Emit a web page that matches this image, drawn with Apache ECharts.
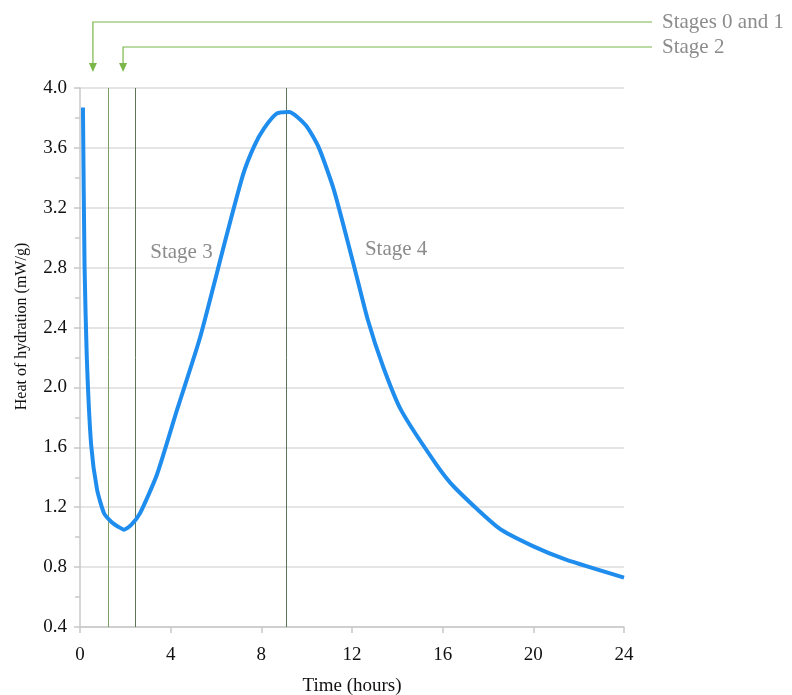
<!DOCTYPE html>
<html>
<head>
<meta charset="utf-8">
<script src="https://cdn.jsdelivr.net/npm/echarts@6/dist/echarts.min.js"></script>
<style>
  html, body { margin: 0; padding: 0; background: #fff; }
  #chart { width: 792px; height: 695px; }
</style>
</head>
<body>
<div id="chart"></div>
<script>
// heat flow curve (hours, mW/g)
const timeHours = [0.13, 0.2, 0.3, 0.49, 0.75, 1.06, 1.4, 1.68, 1.94, 2.25, 2.65, 3.4, 4.28, 5.29, 6.44, 7.19, 7.68, 8.12, 8.69, 9.22, 9.97, 10.54, 11.2, 12.04, 12.7, 13.37, 14.16, 15.7, 16.54, 18.48, 19.98, 21.44, 24];
const heatFlow  = [3.87, 2.82, 2.2, 1.62, 1.32, 1.16, 1.1, 1.07, 1.05, 1.08, 1.16, 1.42, 1.85, 2.33, 3.0, 3.42, 3.61, 3.73, 3.83, 3.84, 3.75, 3.6, 3.32, 2.84, 2.45, 2.14, 1.85, 1.49, 1.33, 1.06, 0.94, 0.85, 0.73];

// vertical stage boundaries
const stageLines = [1.24, 2.43, 9.09];
const stageLineColors = ['#7d9e63', '#5f7556', '#5f7556'];

// stage labels inside the plot
const stageLabels = ['Stage 3', 'Stage 4'];
const stageLabelPos = [[3.1, 2.9], [12.57, 2.92]];

// arrow callouts above the plot
const arrowLabels = ['Stages 0 and 1', 'Stage 2'];
const arrowTimes = [0.57, 1.9];

const chart = echarts.init(document.getElementById('chart'));
const serif = '"Liberation Serif", "DejaVu Serif", serif';

chart.setOption({
  animation: false,
  grid: { left: 80, right: 168, top: 88, bottom: 68, containLabel: false, outerBoundsMode: 'none' },
  xAxis: {
    type: 'value',
    min: 0, max: 24, interval: 4,
    name: 'Time (hours)',
    nameLocation: 'middle',
    nameGap: 50,
    nameTextStyle: { fontFamily: serif, fontSize: 19, color: '#111' },
    axisLine: { lineStyle: { color: '#c8c8c8', width: 1.5 } },
    axisTick: { show: true, length: 6, lineStyle: { color: '#c8c8c8', width: 1.5 } },
    axisLabel: { fontFamily: serif, fontSize: 19, color: '#111', margin: 19 },
    splitLine: { show: false }
  },
  yAxis: {
    type: 'value',
    min: 0.4, max: 4.0, interval: 0.4,
    name: 'Heat of hydration (mW/g)',
    nameLocation: 'middle',
    nameGap: 50,
    nameTextStyle: { fontFamily: serif, fontSize: 16, color: '#111', padding: [0, 0, 0, 62] },
    axisLine: { show: true, lineStyle: { color: '#c8c8c8', width: 1.5 } },
    axisTick: { show: true, length: 6, lineStyle: { color: '#c8c8c8', width: 1.5 } },
    minorTick: { show: true, splitNumber: 2, length: 5, lineStyle: { color: '#c8c8c8', width: 1.5 } },
    axisLabel: {
      fontFamily: serif, fontSize: 19, color: '#111', margin: 13,
      formatter: v => v.toFixed(1)
    },
    splitLine: { show: true, lineStyle: { color: '#dcdcdc', width: 1.5 } }
  },
  series: [{
    type: 'line',
    data: timeHours.map((t, i) => [t, heatFlow[i]]),
    showSymbol: false,
    smooth: 0.2,
    lineStyle: { color: '#1f8ded', width: 4 },
    z: 5,
    markLine: {
      silent: true,
      symbol: ['none', 'none'],
      label: { show: false },
      data: stageLines.map((x, i) => ({
        xAxis: x,
        lineStyle: { color: stageLineColors[i], width: 1, type: 'solid' }
      }))
    }
  }]
});

// annotations placed through the axes
function drawAnnotations() {
  const elements = [];
  const lineColor = '#7ab648';
  const textColor = '#8c8c8c';
  const rowY = [22, 47];
  const rightX = 652;
  const arrowTip = 72;

  arrowLabels.forEach((label, i) => {
    const px = chart.convertToPixel({ gridIndex: 0 }, [arrowTimes[i], 4])[0];
    elements.push({
      type: 'polyline',
      shape: { points: [[rightX, rowY[i]], [px, rowY[i]], [px, arrowTip - 8]] },
      style: { stroke: lineColor, lineWidth: 1.2, fill: null }
    });
    elements.push({
      type: 'polygon',
      shape: { points: [[px - 4, arrowTip - 9], [px + 4, arrowTip - 9], [px, arrowTip]] },
      style: { fill: lineColor }
    });
    elements.push({
      type: 'text',
      x: rightX + 10, y: rowY[i],
      style: {
        text: label, fill: textColor, font: '21px ' + serif,
        textVerticalAlign: 'middle', textAlign: 'left'
      }
    });
  });

  stageLabels.forEach((label, i) => {
    const p = chart.convertToPixel({ gridIndex: 0 }, stageLabelPos[i]);
    elements.push({
      type: 'text',
      x: p[0], y: p[1],
      style: {
        text: label, fill: textColor, font: '21px ' + serif,
        textVerticalAlign: 'middle', textAlign: 'left'
      }
    });
  });

  chart.setOption({ graphic: elements });
}

drawAnnotations();
</script>
</body>
</html>
